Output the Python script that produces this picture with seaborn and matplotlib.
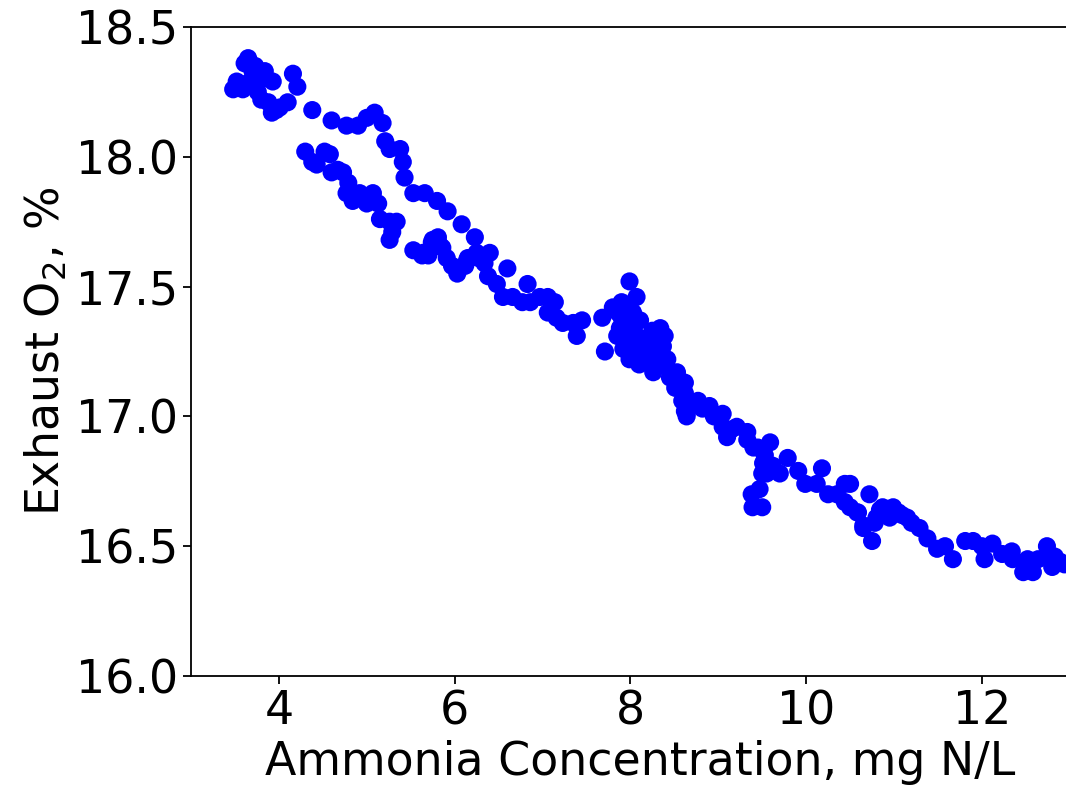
import matplotlib
matplotlib.use("Agg")
import matplotlib.pyplot as plt
import seaborn as sns
import pandas as pd

# Ammonia concentration (mg N/L)
ammonia = [
    # upper-left cluster
    3.65, 3.61, 3.73, 3.84, 3.52, 3.48, 3.59, 3.67, 3.76, 3.81, 3.93, 3.88, 3.92, 4.01, 4.10, 4.16, 4.21,
    3.56, 3.70, 3.80, 3.97,
    # upper branch
    4.38, 4.60, 4.77, 4.90, 5.00, 5.09, 5.18, 5.21, 5.26, 5.38, 5.41, 5.43, 5.53, 5.66, 5.80, 5.92,
    6.08, 6.23, 6.40, 6.60, 6.83,
    # lower branch
    4.30, 4.38, 4.43, 4.52, 4.58, 4.60, 4.67, 4.73, 4.79, 4.77, 4.84, 4.92, 5.00, 5.07, 5.13, 5.15,
    5.26, 5.34, 5.29, 5.26, 5.53, 5.63, 5.70, 5.74, 5.81, 5.86, 5.91, 5.97, 6.03, 6.12, 6.15, 6.27,
    6.34, 6.38, 6.48, 6.55, 6.66, 6.77, 6.86, 6.97, 7.06, 7.14, 7.06, 7.16, 7.23, 7.35, 7.45, 7.39,
    5.64, 5.75, 5.83, 6.14, 6.25,
    # cluster near 8
    7.68, 7.71, 7.80, 7.90, 7.99, 8.07, 7.85, 7.88, 7.96, 7.99, 8.03, 8.11, 8.14, 8.34, 8.39, 8.37,
    8.24, 8.26, 8.42, 8.53, 8.51, 8.62, 8.59, 8.64, 8.77, 8.90, 9.05,
    7.90, 7.95, 8.00, 8.05, 8.08, 8.12, 8.18, 8.20, 8.28, 8.30, 8.33, 7.93, 7.97, 8.02, 8.10, 8.15,
    7.86, 8.25, 8.38, 8.45, 7.92,
    # middle descent
    8.60, 8.62, 8.62, 8.64, 9.05, 9.10, 9.21, 9.33, 9.33, 9.45, 9.59, 9.51, 9.50, 9.62, 9.70, 9.79,
    9.91, 9.99, 10.12, 10.18, 10.25, 10.35, 10.44, 10.44, 10.58, 10.72, 9.38, 9.47, 9.39, 9.50,
    10.65, 10.80, 10.87, 10.99, 8.68, 8.82, 8.95, 9.15, 9.40, 9.53, 9.55,
    # right tail
    10.50, 10.50, 10.59, 10.65, 10.75, 10.78, 10.84, 10.95, 11.09, 11.20, 11.29, 11.38, 11.49, 11.58,
    11.67, 11.81, 11.90, 12.00, 12.03, 12.12, 12.23, 12.34, 12.35, 12.47, 12.52, 12.58, 12.64, 12.74,
    12.80, 12.83, 12.89, 12.94, 11.05, 11.15,
]

# Exhaust O2 (%)
exhaust_o2 = [
    18.38, 18.36, 18.35, 18.33, 18.29, 18.26, 18.26, 18.29, 18.25, 18.30, 18.29, 18.21, 18.17, 18.19, 18.21, 18.32, 18.27,
    18.28, 18.33, 18.22, 18.18,
    18.18, 18.14, 18.12, 18.12, 18.15, 18.17, 18.13, 18.06, 18.03, 18.03, 17.98, 17.92, 17.86, 17.86, 17.83, 17.79,
    17.74, 17.69, 17.63, 17.57, 17.51,
    18.02, 17.98, 17.97, 18.02, 18.01, 17.94, 17.95, 17.94, 17.90, 17.86, 17.83, 17.86, 17.82, 17.86, 17.82, 17.76,
    17.75, 17.75, 17.71, 17.68, 17.64, 17.62, 17.62, 17.67, 17.69, 17.65, 17.61, 17.58, 17.55, 17.58, 17.61, 17.61,
    17.59, 17.54, 17.51, 17.46, 17.46, 17.44, 17.44, 17.46, 17.46, 17.44, 17.40, 17.38, 17.36, 17.36, 17.37, 17.31,
    17.63, 17.68, 17.66, 17.60, 17.63,
    17.38, 17.25, 17.42, 17.44, 17.52, 17.46, 17.31, 17.34, 17.28, 17.22, 17.40, 17.37, 17.28, 17.34, 17.31, 17.27,
    17.25, 17.17, 17.22, 17.17, 17.11, 17.13, 17.06, 17.01, 17.06, 17.04, 17.01,
    17.38, 17.33, 17.30, 17.32, 17.25, 17.30, 17.22, 17.30, 17.28, 17.22, 17.30, 17.42, 17.36, 17.26, 17.20, 17.24,
    17.40, 17.33, 17.20, 17.15, 17.26,
    17.13, 17.09, 17.02, 17.00, 16.96, 16.92, 16.96, 16.94, 16.91, 16.88, 16.90, 16.82, 16.78, 16.81, 16.78, 16.84,
    16.79, 16.74, 16.74, 16.80, 16.70, 16.70, 16.74, 16.67, 16.63, 16.70, 16.70, 16.72, 16.65, 16.65,
    16.58, 16.61, 16.65, 16.65, 17.05, 17.03, 17.00, 16.95, 16.88, 16.85, 16.78,
    16.74, 16.65, 16.63, 16.57, 16.52, 16.59, 16.64, 16.61, 16.62, 16.59, 16.57, 16.53, 16.49, 16.50,
    16.45, 16.52, 16.52, 16.50, 16.45, 16.51, 16.47, 16.48, 16.45, 16.40, 16.45, 16.40, 16.45, 16.50,
    16.42, 16.46, 16.44, 16.43, 16.63, 16.61,
]

x_ticks = [4, 6, 8, 10, 12]
y_ticks = [16.0, 16.5, 17.0, 17.5, 18.0, 18.5]

df = pd.DataFrame({"ammonia": ammonia, "o2": exhaust_o2})

sns.set_style("ticks")
plt.rcParams["font.family"] = ["DejaVu Sans"]
plt.rcParams["text.color"] = "black"
plt.rcParams["axes.labelcolor"] = "black"
plt.rcParams["xtick.color"] = "black"
plt.rcParams["ytick.color"] = "black"

fig = plt.figure(figsize=(10.66, 7.93), dpi=100)
ax = fig.add_axes([191 / 1066, (793 - 676) / 793, 899 / 1066, 649 / 793])

sns.scatterplot(data=df, x="ammonia", y="o2", ax=ax, color="blue",
                s=170, linewidth=0, edgecolor="none", legend=False)

ax.set_xlim(3.0, 13.23)
ax.set_ylim(16.0, 18.5)
ax.set_xticks(x_ticks)
ax.set_xticklabels([str(t) for t in x_ticks])
ax.set_yticks(y_ticks)
ax.set_yticklabels([f"{t:.1f}" for t in y_ticks])
ax.tick_params(labelsize=33, length=6, width=1.3, color="black", labelcolor="black")
for sp in ax.spines.values():
    sp.set_linewidth(1.3)
    sp.set_color("black")
ax.set_xlabel("Ammonia Concentration, mg N/L", fontsize=33, color="black")
ax.set_ylabel("Exhaust O$_2$, %", fontsize=33, color="black")

fig.savefig("out.png", dpi=100)
